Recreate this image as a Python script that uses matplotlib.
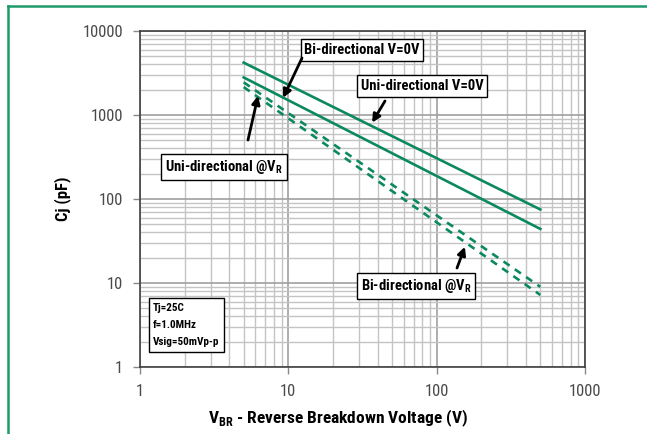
import matplotlib
matplotlib.use("Agg")
import matplotlib.pyplot as plt
from matplotlib.lines import Line2D
from matplotlib.ticker import LogLocator, NullFormatter, FixedLocator

plt.rcParams['font.family'] = ['Roboto Condensed', 'DejaVu Sans']
plt.rcParams['mathtext.fontset'] = 'custom'
plt.rcParams['mathtext.rm'] = 'Roboto Condensed:weight=heavy'
plt.rcParams['mathtext.bf'] = 'Roboto Condensed:weight=heavy'

# Data
vbr = [5, 500]
uni_0v = [4200, 75]
bi_0v = [2800, 44]
uni_vr = [2450, 9.0]
bi_vr = [2150, 7.2]
x_ticks = [1, 10, 100, 1000]
x_tick_labels = ['1', '10', '100', '1000']
y_ticks = [1, 10, 100, 1000, 10000]
y_tick_labels = ['1', '10', '100', '1000', '10000']

W, H = 647, 434
fig = plt.figure(figsize=(W / 100, H / 100), dpi=100)
L, R, T, B = 140, 585, 31, 367
ax = fig.add_axes([L / W, 1 - B / H, (R - L) / W, (B - T) / H])

green = '#0a8a5c'
ax.plot(vbr, uni_0v, color=green, lw=1.9)
ax.plot(vbr, bi_0v, color=green, lw=1.9)
ax.plot(vbr, uni_vr, color=green, lw=1.9, linestyle=(0, (2.8, 2.4)))
ax.plot(vbr, bi_vr, color=green, lw=1.9, linestyle=(0, (2.8, 2.4)))

ax.set_xscale('log')
ax.set_yscale('log')
ax.set_xlim(1, 1000)
ax.set_ylim(1, 10000)
ax.xaxis.set_major_locator(FixedLocator(x_ticks))
ax.set_xticklabels(x_tick_labels)
ax.yaxis.set_major_locator(FixedLocator(y_ticks))
ax.set_yticklabels(y_tick_labels)
ax.xaxis.set_minor_locator(LogLocator(base=10, subs=range(2, 10)))
ax.yaxis.set_minor_locator(LogLocator(base=10, subs=range(2, 10)))
ax.xaxis.set_minor_formatter(NullFormatter())
ax.yaxis.set_minor_formatter(NullFormatter())
ax.grid(True, which='major', color='#a0a0a0', lw=1.2)
ax.grid(True, which='minor', color='#c4c4c4', lw=1.0)
ax.tick_params(which='major', length=5, width=1, color='#888888', labelsize=12,
               labelcolor='#4a4a4a', direction='out')
ax.tick_params(axis='x', which='major', pad=7)
ax.tick_params(axis='y', which='major', pad=7)
ax.tick_params(which='minor', length=0)
ax.tick_params(top=False, right=False)
for s in ax.spines.values():
    s.set_color('#404040')
    s.set_linewidth(1.2)


def axf(px, py):
    return ((px - L) / (R - L), (B - py) / (B - T))


ax.set_ylabel('Cj (pF)', fontsize=12, fontweight='heavy', va='center')
ax.yaxis.set_label_coords(*axf(63, 199))
ax.set_xlabel(r'V$_{\mathrm{BR}}$ - Reverse Breakdown Voltage (V)', fontsize=12.5,
              fontweight='heavy', va='center')
ax.xaxis.set_label_coords(*axf(338, 418))

box = dict(boxstyle='square,pad=0.25', fc='white', ec='black', lw=1.0)
labels = [
    ('Bi-directional V=0V', (362, 50), (9.22, 1600), (302, 58)),
    ('Uni-directional V=0V', (422, 86), (36.7, 810), (385, 101)),
    (r'Uni-directional @V$_{\mathrm{R}}$', (224, 167), (6.25, 1690), (248, 140)),
    (r'Bi-directional @V$_{\mathrm{R}}$', (416, 286), (155, 27), (457, 268)),
]
for text, (cx, cy), tip, (tx, ty) in labels:
    ax.text(*axf(cx, cy), text, transform=ax.transAxes, ha='center', va='center',
            fontsize=10.5, fontweight='heavy', bbox=box, zorder=5)
    ax.annotate('', xy=tip, xycoords='data', xytext=axf(tx, ty), textcoords='axes fraction',
                arrowprops=dict(arrowstyle='-|>', color='black', lw=2.0, mutation_scale=12,
                                shrinkA=0, shrinkB=0), zorder=6)

ax.text(*axf(153, 325), 'Tj=25C\nf=1.0MHz\nVsig=50mVp-p', transform=ax.transAxes,
        ha='left', va='center', fontsize=8, fontweight='heavy', linespacing=1.9,
        bbox=dict(boxstyle='square,pad=0.4', fc='white', ec='black', lw=1.0), zorder=5)

border = '#1f9a6b'
fig.add_artist(Line2D([8 / W, 8 / W], [0, 1 - 6 / H], transform=fig.transFigure, color=border, lw=1.8))
fig.add_artist(Line2D([8 / W, 1], [1 - 6 / H, 1 - 6 / H], transform=fig.transFigure, color=border, lw=1.8))

fig.savefig('out.png', dpi=100)
